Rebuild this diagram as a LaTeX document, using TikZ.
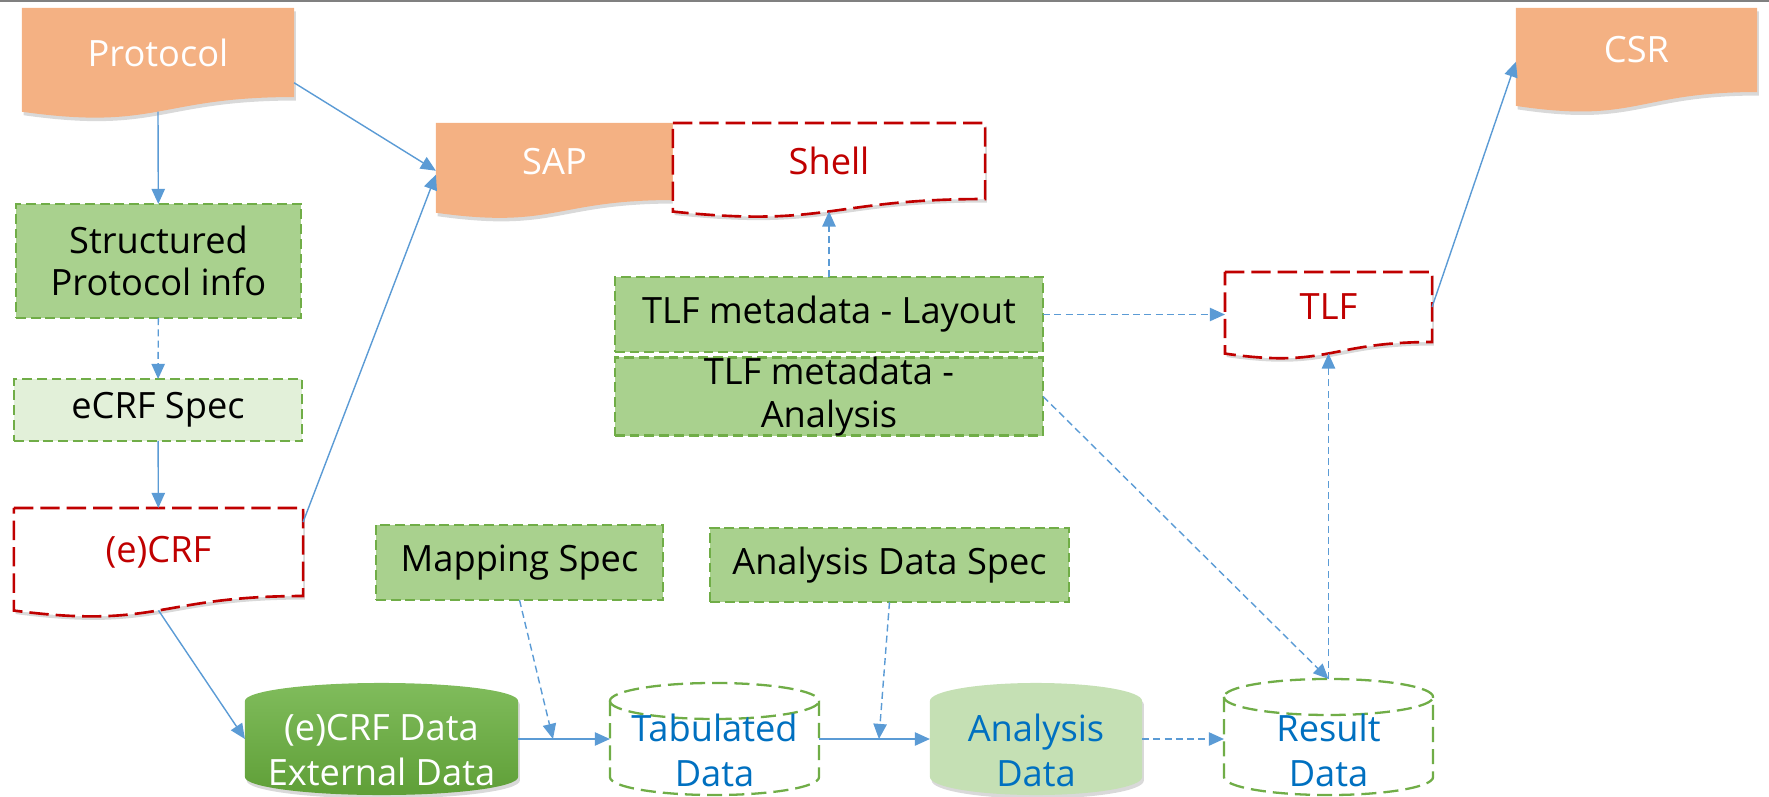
\documentclass[tikz,border=0pt]{standalone}
\usepackage{fontspec}
\setmainfont{Open Sans}
\usetikzlibrary{calc,backgrounds,shadows,arrows.meta}

\definecolor{docorange}{HTML}{F4B183}
\definecolor{boxgreen}{HTML}{A9D18E}
\definecolor{palegreen}{HTML}{E2F0D9}
\definecolor{linegreen}{HTML}{70AD47}
\definecolor{darkred}{HTML}{C00000}
\definecolor{textblue}{HTML}{0070C0}
\definecolor{arrowblue}{HTML}{5B9BD5}
\definecolor{cangreen}{HTML}{C5E0B4}
\definecolor{cantop}{HTML}{80BC5C}
\definecolor{canbot}{HTML}{5F9F37}

\tikzset{
  every node/.style={inner sep=0pt, outer sep=0pt, align=center, font=\fontsize{10.3}{12}\selectfont},
  softshadow/.style={drop shadow={shadow xshift=0.5pt, shadow yshift=-1pt, opacity=0.3}},
  orangedoc/.style={text=white},
  reddoc/.style={text=darkred},
  orangefill/.style={fill=docorange, softshadow},
  redline/.style={fill=white, draw=darkred, line width=0.75pt, dash pattern=on 5.5pt off 2pt, softshadow},
  spec/.style={fill=boxgreen, draw=linegreen, line width=0.7pt, dash pattern=on 2.8pt off 1.4pt},
  cantext/.style={text=textblue, font=\fontsize{10.3}{12.8}\selectfont},
  greenline/.style={fill=white, draw=linegreen, line width=0.65pt, dash pattern=on 4.3pt off 2pt},
  flow/.style={draw=arrowblue, line width=0.4pt, -{Triangle[length=4.3pt,width=3.8pt]}},
  flowdash/.style={flow, dash pattern=on 2pt off 1.2pt}
}

% document shape under a node
\newcommand\docshape[2]{%
  \begin{pgfonlayer}{background}
    \path[#1] (#2.north west) -- (#2.north east) -- (#2.south east)
      .. controls (#2.south) and ($(#2.north)!1.381!(#2.south)$)
      .. ($(#2.north west)!1.165!(#2.south west)$) -- cycle;
  \end{pgfonlayer}
  \coordinate (#2-b) at ($(#2.north)!1.163!(#2.south)$);
}
% can shape under a node
\newcommand\canshape[3]{%
  \begin{pgfonlayer}{background}
    \path[#1] let \p1=(#3.north west), \p2=(#3.south east), \n1={(\x2-\x1)/2}, \n2={0.18cm} in
      (\x1,\y1-\n2) -- (\x1,\y2+\n2) arc[start angle=180, end angle=360, x radius=\n1, y radius=\n2]
      -- (\x2,\y1-\n2) arc[start angle=0, end angle=180, x radius=\n1, y radius=\n2] -- cycle;
    \path[#2] let \p1=(#3.north west), \p2=(#3.south east), \n1={(\x2-\x1)/2}, \n2={0.18cm} in
      (\x1,\y1-\n2) arc[start angle=180, end angle=360, x radius=\n1, y radius=\n2];
  \end{pgfonlayer}
}

\begin{document}
\begin{tikzpicture}[x=0.01cm, y=0.01cm]
  \useasboundingbox (0,0) rectangle (1769,-797);
  \draw[gray, line width=0.6pt] (0,-0.5) -- (1769,-0.5);

  %文档
  \node[orangedoc, minimum width=2.72cm, minimum height=0.89cm] (prot) at (158,-52.5) {Protocol};
  \node[orangedoc, minimum width=2.37cm, minimum height=0.77cm] (sap) at (554.5,-161.5) {SAP};
  \node[reddoc, minimum width=3.12cm, minimum height=0.76cm] (shell) at (829,-161) {Shell};
  \node[orangedoc, minimum width=2.41cm, minimum height=0.84cm] (csr) at (1636.5,-50) {CSR};
  \node[reddoc, minimum width=2.89cm, minimum height=0.88cm] (ecrf) at (158.5,-552) {(e)CRF};
  \node[reddoc, minimum width=2.07cm, minimum height=0.70cm] (tlf) at (1328.5,-307) {TLF};
  \docshape{orangefill}{prot}
  \docshape{orangefill}{sap}
  \docshape{redline}{shell}
  \docshape{orangefill}{csr}
  \docshape{redline}{ecrf}
  \docshape{redline}{tlf}

  %规格
  \node[spec, minimum width=2.85cm, minimum height=1.14cm] (spi) at (158.5,-261) {Structured\\Protocol info};
  \node[spec, fill=palegreen, minimum width=2.88cm, minimum height=0.62cm] (ecrfspec) at (158,-410) {eCRF Spec};
  \node[spec, minimum width=4.28cm, minimum height=0.75cm] (tlflay) at (829,-314.5) {TLF metadata - Layout};
  \node[spec, minimum width=4.28cm, minimum height=0.73cm] (tlfana) at (829,-396.5) {TLF metadata -\\Analysis};
  \node[spec, minimum width=2.87cm, minimum height=0.75cm] (mapspec) at (519.5,-562.5) {Mapping Spec};
  \node[spec, minimum width=3.59cm, minimum height=0.74cm] (adspec) at (889.5,-565) {Analysis Data Spec};

  %数据
  \node[minimum width=2.73cm, minimum height=1.12cm] (ecrfd) at (381.5,-739) {};
  \node[minimum width=2.09cm, minimum height=1.12cm] (tab) at (714.5,-739) {};
  \node[minimum width=2.12cm, minimum height=1.12cm] (anad) at (1036,-739) {};
  \node[minimum width=2.09cm, minimum height=1.16cm] (res) at (1328.5,-737) {};
  \canshape{top color=cantop, bottom color=canbot, softshadow}{draw=none}{ecrfd}
  \canshape{greenline}{greenline, fill=none}{tab}
  \canshape{fill=cangreen, softshadow}{draw=none}{anad}
  \canshape{greenline}{greenline, fill=none}{res}
  \node[cantext, text=white] (ecrfd-t) at ($(ecrfd)+(0,-11)$) {(e)CRF Data\\External Data};
  \node[cantext] (tab-t) at ($(tab)+(0,-11)$) {Tabulated\\Data};
  \node[cantext] (anad-t) at ($(anad)+(0,-11)$) {Analysis\\Data};
  \node[cantext] (res-t) at ($(res)+(0,-13)$) {Result\\Data};
  \coordinate (mapend) at ($(ecrfd.east)!0.38!(tab.west)$);
  \coordinate (adsend) at ($(tab.east)!0.54!(anad.west)$);

  %连线
  \draw[flow] (prot-b) -- (spi);
  \draw[flow] ($(prot.north east)!0.84!(prot.south east)$) -- ($(sap.north west)!0.62!(sap.south west)$);
  \draw[flowdash] (spi) -- (ecrfspec);
  \draw[flow] (ecrfspec) -- (ecrf);
  \draw[flow] ($(ecrf.north east)!0.16!(ecrf.south east)$) -- ($(sap.north west)!0.67!(sap.south west)$);
  \draw[flow] (ecrf-b) -- (ecrfd.west);
  \draw[flow] (ecrfd.east) -- (ecrfd.east -| tab.west);
  \draw[flow] (tab.east) -- (tab.east -| anad.west);
  \draw[flowdash] (anad.east) -- (anad.east -| res.west);
  \draw[flowdash] (mapspec.south) -- (mapend);
  \draw[flowdash] (adspec.south) -- (adsend);
  \draw[flowdash] (tlfana.east) -- (res.north);
  \draw[flowdash] (res.north) -- (tlf-b);
  \draw[flowdash] (tlflay.east) -- (tlflay.east -| tlf.west);
  \draw[flowdash] (tlflay.north) -- (shell-b);
  \draw[flow] (tlf.east) -- ($(csr.north west)!0.64!(csr.south west)$);
\end{tikzpicture}
\end{document}
